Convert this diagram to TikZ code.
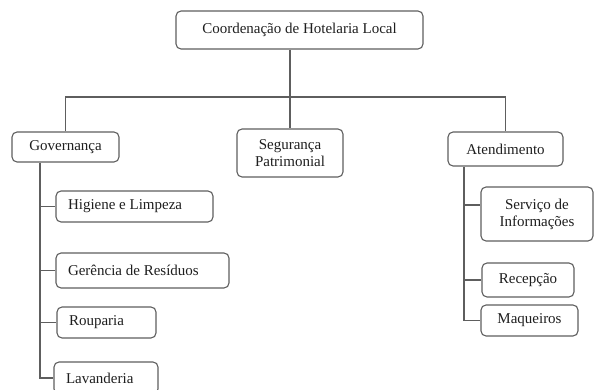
\documentclass[tikz,border=0pt]{standalone}
\usepackage{fontspec}
\setmainfont{Liberation Serif}
\definecolor{linegray}{HTML}{5E5E5E}
\definecolor{textgray}{HTML}{1E1E1E}

\begin{document}
\begin{tikzpicture}[x=1pt,y=-1pt,
  box/.style={draw=linegray, line width=1.1pt, rounded corners=5pt, text=textgray,
    font=\fontsize{15}{17}\selectfont, inner sep=0pt, align=center},
  leaf/.style={box, align=flush left, inner xsep=12pt, text width=#1},
  link/.style={draw=linegray, line width=1.1pt}]
\clip (0,0) rectangle (595,390);
\node[box, minimum width=247pt, minimum height=38pt] (coord) at (299.5,30) {Coordena\c{c}\~ao de Hotelaria Local};
\node[box, minimum width=107pt, minimum height=30pt] (gov) at (65.5,147) {Governan\c{c}a};
\node[box, minimum width=106pt, minimum height=48pt] (seg) at (290,153) {Seguran\c{c}a\\Patrimonial};
\node[box, minimum width=115pt, minimum height=34pt] (ate) at (505.5,149) {Atendimento};
\node[leaf=133pt, minimum height=31pt] (hig) at (134.5,206.5) {Higiene e Limpeza};
\node[leaf=149pt, minimum height=35pt] (ger) at (142.5,270.5) {Ger\^encia de Res\'iduos};
\node[leaf=75pt, minimum height=31pt] (rou) at (106.5,322.5) {Rouparia};
\node[leaf=80pt, minimum height=32pt] (lav) at (106,378) {Lavanderia};
\node[box, minimum width=112pt, minimum height=54pt] (ser) at (537,214) {Servi\c{c}o de\\Informa\c{c}\~oes};
\node[box, minimum width=92pt, minimum height=34pt] (rec) at (528,280) {Recep\c{c}\~ao};
\node[box, minimum width=97pt, minimum height=31pt] (maq) at (529.5,320.5) {Maqueiros};
\coordinate (bus) at (0,97);
\coordinate (gtrunk) at (40,0);
\coordinate (atrunk) at (464,0);
\draw[link] (coord.south -| seg.north) -- (seg.north);
\draw[link] (gov.north) -- (gov.north |- bus) -- (ate.north |- bus) -- (ate.north);
\draw[link] (gov.south -| gtrunk) -- (gtrunk |- lav.west) -- (lav.west);
\foreach \leafname in {hig,ger,rou}
  \draw[link] (gtrunk |- \leafname.west) -- (\leafname.west);
\draw[link] (ate.south -| atrunk) -- (atrunk |- maq.west) -- (maq.west);
\draw[link] (atrunk |- ser.171) -- (ser.171);
\draw[link] (atrunk |- rec.west) -- (rec.west);
\end{tikzpicture}
\end{document}
